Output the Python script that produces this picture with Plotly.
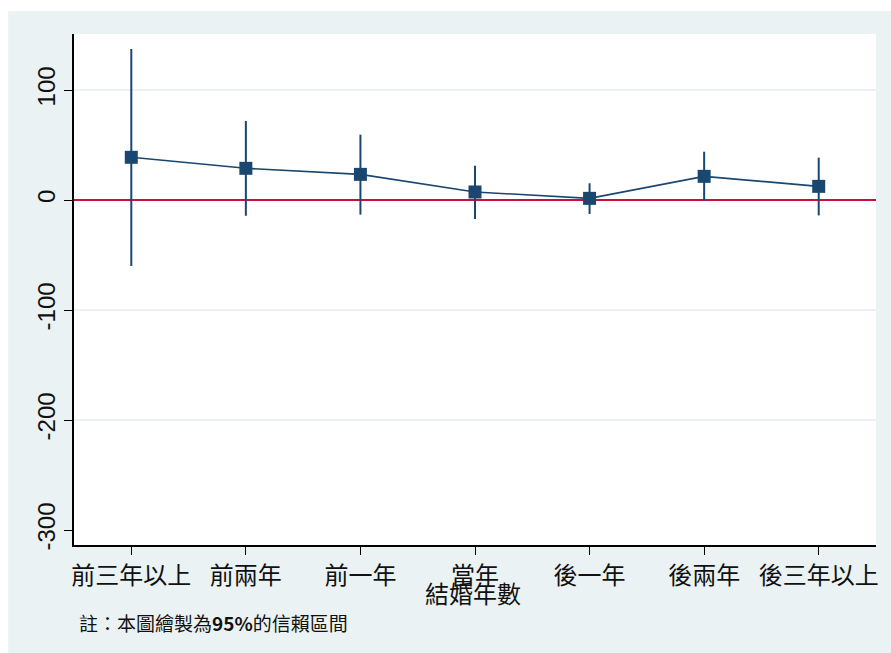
import plotly.graph_objects as go

# Years relative to marriage
categories = ["前三年以上", "前兩年", "前一年", "當年", "後一年", "後兩年", "後三年以上"]
# Point estimates with 95% confidence bounds
estimate = [38.8, 28.8, 23.3, 7.3, 1.5, 21.5, 12.4]
ci_upper = [137.3, 71.8, 59.4, 31.2, 15.2, 43.9, 38.5]
ci_lower = [-60.0, -14.3, -13.3, -17.3, -12.7, -0.6, -14.0]

y_ticks = [100, 0, -100, -200, -300]
y_tick_text = ["100", "0", "-100", "-200", "-300"]
grid_values = [100, -100, -200]

NAVY = "#1a476f"
RED = "#c8103c"
PANEL = "#eaf2f3"

W, H = 891, 653
L, R, T, B = 74, 13, 34, 108
plot_w = W - L - R
plot_h = H - T - B

fig = go.Figure()

# Confidence interval spikes
fig.add_trace(go.Scatter(
    x=categories, y=estimate, mode="markers",
    marker=dict(size=0.1, color=NAVY, opacity=0),
    error_y=dict(
        type="data", symmetric=False,
        array=[u - e for u, e in zip(ci_upper, estimate)],
        arrayminus=[e - l for e, l in zip(estimate, ci_lower)],
        color=NAVY, thickness=2, width=0,
    ),
    hoverinfo="skip", showlegend=False,
))

# Connected point estimates
fig.add_trace(go.Scatter(
    x=categories, y=estimate, mode="lines+markers",
    line=dict(color=NAVY, width=1.6),
    marker=dict(symbol="square", size=13, color=NAVY),
    showlegend=False,
))

shapes = []
# White strips outside the graph region
shapes.append(dict(type="rect", xref="paper", yref="paper",
                   x0=-L / plot_w - 0.01, x1=1 + R / plot_w + 0.01,
                   y0=1 + (T - 11) / plot_h, y1=1 + T / plot_h + 0.01,
                   fillcolor="white", line=dict(width=0), layer="below"))
shapes.append(dict(type="rect", xref="paper", yref="paper",
                   x0=-L / plot_w - 0.01, x1=-(L - 8) / plot_w,
                   y0=-B / plot_h - 0.01, y1=1 + T / plot_h + 0.01,
                   fillcolor="white", line=dict(width=0), layer="below"))
# Horizontal grid lines
for g in grid_values:
    shapes.append(dict(type="line", xref="paper", yref="y", x0=0, x1=1, y0=g, y1=g,
                       line=dict(color=PANEL, width=2), layer="below"))
# Reference line at zero
shapes.append(dict(type="line", xref="paper", yref="y", x0=0, x1=1, y0=0, y1=0,
                   line=dict(color=RED, width=2), layer="below"))

fig.update_layout(
    width=W, height=H,
    margin=dict(l=L, r=R, t=T, b=B, pad=0),
    paper_bgcolor=PANEL, plot_bgcolor="white",
    shapes=shapes,
    xaxis=dict(
        type="category", range=[-0.5, len(categories) - 0.5],
        showgrid=False, zeroline=False,
        showline=True, linecolor="black", linewidth=1.5,
        ticks="outside", ticklen=8, tickcolor="black", tickwidth=1.2,
        tickfont=dict(family="Noto Sans CJK TC", size=24, color="#111"),
    ),
    yaxis=dict(
        range=[-313.6, 150.9], tickvals=y_ticks, ticktext=y_tick_text,
        showgrid=False, zeroline=False,
        showline=True, linecolor="black", linewidth=1.5,
        ticks="outside", ticklen=8, tickcolor="black", tickwidth=1.2,
        tickangle=-90,
        tickfont=dict(family="Liberation Sans, Arial", size=24, color="#111"),
    ),
    annotations=[
        dict(text="結婚年數", xref="paper", yref="paper", x=(474 - L) / plot_w, y=0,
             xanchor="center", yanchor="middle", yshift=-47, showarrow=False,
             font=dict(family="Noto Sans CJK TC", size=24, color="#111")),
        dict(text="註：本圖繪製為<b>95%</b>的信賴區間", xref="paper", yref="paper",
             x=(77 - L) / plot_w, y=0, xanchor="left", yanchor="middle", yshift=-77,
             showarrow=False,
             font=dict(family="Noto Sans CJK TC", size=19, color="#111")),
    ],
)

fig.write_html("out.html")
